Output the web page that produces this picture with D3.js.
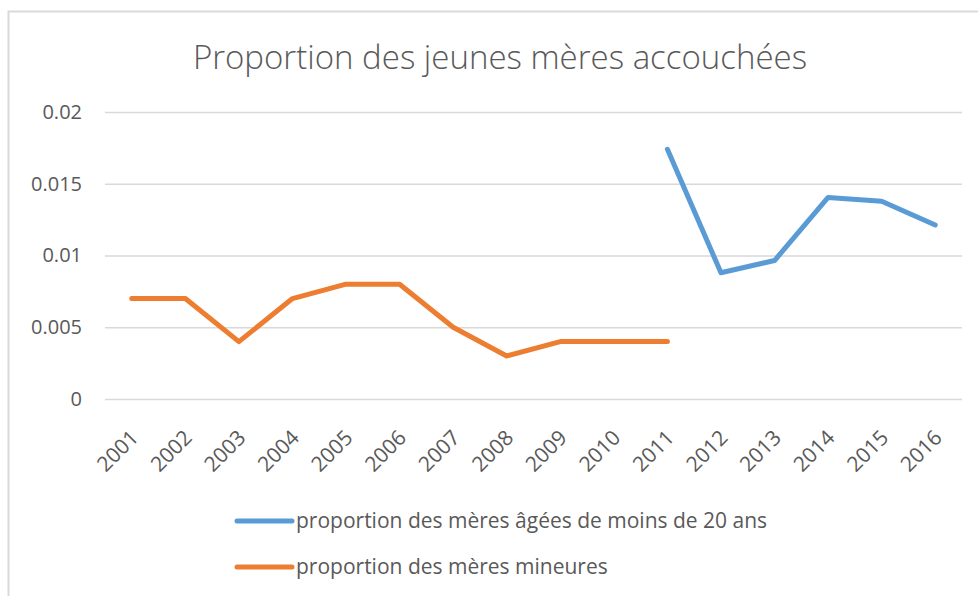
<!DOCTYPE html>
<html>
<head>
<meta charset="utf-8">
<title>Proportion des jeunes mères accouchées</title>
<style>
  body { margin: 0; background: #fff; }
  text { font-family: "Open Sans", Lato, sans-serif; fill: #595959; }
</style>
</head>
<body>
<div id="chart"></div>
<script src="https://d3js.org/d3.v7.min.js"></script>
<script>
// data
var years = ["2001","2002","2003","2004","2005","2006","2007","2008","2009","2010","2011","2012","2013","2014","2015","2016"];
var moins20 = [null,null,null,null,null,null,null,null,null,null,0.0174,0.0088,0.00965,0.01405,0.01378,0.01213];
var mineures = [0.007,0.007,0.004,0.007,0.008,0.008,0.005,0.003,0.004,0.004,0.004,null,null,null,null,null];
var yTicks = [0, 0.005, 0.01, 0.015, 0.02];
var seriesNames = ["proportion des mères âgées de moins de 20 ans", "proportion des mères mineures"];
var colors = ["#5b9bd5", "#ed7d31"];

var W = 978, H = 596;
var plotL = 105, plotR = 962, plotT = 112, plotB = 399;

var svg = d3.select("#chart").append("svg")
  .attr("width", W).attr("height", H);

// chart frame (cut off at right and bottom)
svg.append("path")
  .attr("d", "M8.5," + H + " V11.5 H" + W)
  .attr("fill", "none").attr("stroke", "#d9d9d9").attr("stroke-width", 2);

svg.append("text")
  .attr("x", 500).attr("y", 69)
  .attr("text-anchor", "middle")
  .style("font-size", "33px").style("font-weight", 300)
  .text("Proportion des jeunes mères accouchées");

var x = d3.scaleBand().domain(years).range([plotL, plotR]);
var y = d3.scaleLinear().domain([0, 0.02]).range([plotB, plotT]);

// gridlines + y labels
var yAxis = d3.axisLeft(y).tickValues(yTicks).tickSize(-(plotR - plotL)).tickPadding(23)
  .tickFormat(function(d){ return d === 0 ? "0" : String(+d.toFixed(3)); });
var gy = svg.append("g").attr("transform", "translate(" + plotL + ",0)").call(yAxis);
gy.select(".domain").remove();
gy.selectAll("line").attr("stroke", "#d9d9d9").attr("stroke-width", 1.5);
gy.selectAll("text").style("font-size", "20px").attr("fill", "#595959");

// x labels rotated
var xAxis = d3.axisBottom(x).tickSize(0).tickPadding(0);
var gx = svg.append("g").attr("transform", "translate(0," + plotB + ")").call(xAxis);
gx.select(".domain").remove();
gx.selectAll("text")
  .style("font-size", "21px").attr("fill", "#595959")
  .attr("text-anchor", "end")
  .attr("dy", 0).attr("y", 0)
  .attr("transform", "translate(8,40) rotate(-45)");
svg.selectAll(".tick text").attr("font-family", null);

var line = d3.line()
  .defined(function(d){ return d != null; })
  .x(function(d, i){ return x(years[i]) + x.bandwidth() / 2; })
  .y(function(d){ return y(d); });

[moins20, mineures].forEach(function(s, k){
  svg.append("path")
    .attr("d", line(s))
    .attr("fill", "none")
    .attr("stroke", colors[k])
    .attr("stroke-width", 5)
    .attr("stroke-linecap", "round")
    .attr("stroke-linejoin", "round");
});

// legend
var lg = svg.selectAll(".leg").data(seriesNames).enter().append("g")
  .attr("transform", function(d, i){ return "translate(235," + (521 + i * 46) + ")"; });
lg.append("line").attr("x1", 2).attr("x2", 57)
  .attr("stroke", function(d, i){ return colors[i]; })
  .attr("stroke-width", 5).attr("stroke-linecap", "round");
lg.append("text").attr("x", 61).attr("dy", "0.35em")
  .style("font-size", "21px").text(function(d){ return d; });
</script>
</body>
</html>
